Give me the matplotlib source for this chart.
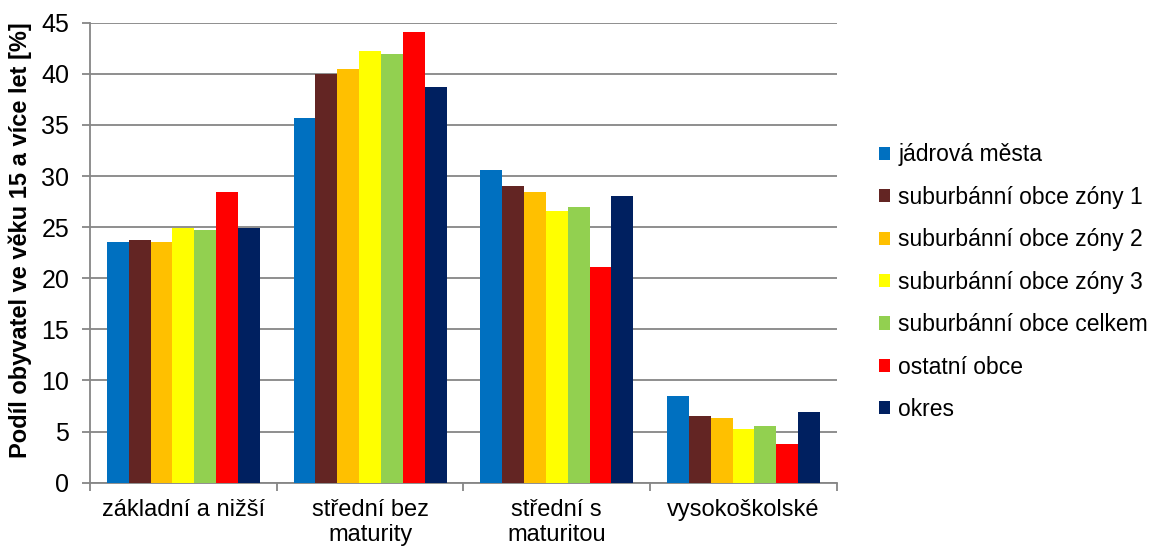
import matplotlib.pyplot as plt
import numpy as np

plt.rcParams['font.family'] = ['Liberation Sans', 'DejaVu Sans']

categories = ['základní a nižší', 'střední bez\nmaturity', 'střední s\nmaturitou', 'vysokoškolské']
series_names = ['jádrová města', 'suburbánní obce zóny 1', 'suburbánní obce zóny 2',
                'suburbánní obce zóny 3', 'suburbánní obce celkem', 'ostatní obce', 'okres']
jadrova = [23.5, 35.7, 30.6, 8.45]
zona1 = [23.75, 40.0, 29.0, 6.5]
zona2 = [23.55, 40.5, 28.45, 6.35]
zona3 = [24.95, 42.25, 26.6, 5.3]
celkem = [24.75, 41.95, 26.95, 5.5]
ostatni = [28.45, 44.1, 21.1, 3.8]
okres = [24.9, 38.7, 28.05, 6.9]
colors = ['#0070C0', '#632523', '#FFC000', '#FFFF00', '#92D050', '#FF0000', '#002060']

series = [jadrova, zona1, zona2, zona3, celkem, ostatni, okres]

fig = plt.figure(figsize=(11.58, 5.5), dpi=100)
ax = fig.add_axes([0.0777, 0.1224, 0.645, 0.8363])

x = np.arange(len(categories))
w = 0.82 / len(series)
for i, (vals, name, c) in enumerate(zip(series, series_names, colors)):
    ax.bar(x - 0.41 + w * (i + 0.5), vals, w, color=c, label=name, zorder=3)

ax.set_xlim(-0.5, len(categories) - 0.5)
ax.set_ylim(0, 45)
ax.set_yticks(range(0, 46, 5))
ax.yaxis.grid(True, color='#868686', linewidth=1.3, zorder=0)
ax.set_xticks(x)
ax.set_xticklabels(categories, fontsize=17, linespacing=1.15)
ax.tick_params(axis='x', length=0, pad=12)
ax.set_xticks(np.arange(-0.5, len(categories), 1), minor=True)
ax.tick_params(axis='x', which='minor', length=6, color='#868686', width=1.3)
ax.tick_params(axis='y', labelsize=18, length=6, color='#868686', width=1.3, pad=9)
for s in ['top', 'right']:
    ax.spines[s].set_visible(False)
for s in ['left', 'bottom']:
    ax.spines[s].set_color('#868686')
    ax.spines[s].set_linewidth(1.3)

ax.set_ylabel('Podíl obyvatel ve věku 15 a více let [%]', fontsize=17, fontweight='bold')
ax.yaxis.set_label_coords(-0.078, 0.527)

fig.legend(loc='center left', bbox_to_anchor=(0.741, 0.487), frameon=False, fontsize=16.5,
           handlelength=0.5, handleheight=0.5, handletextpad=0.35, labelspacing=0.85)

fig.savefig('out.png', dpi=100)
